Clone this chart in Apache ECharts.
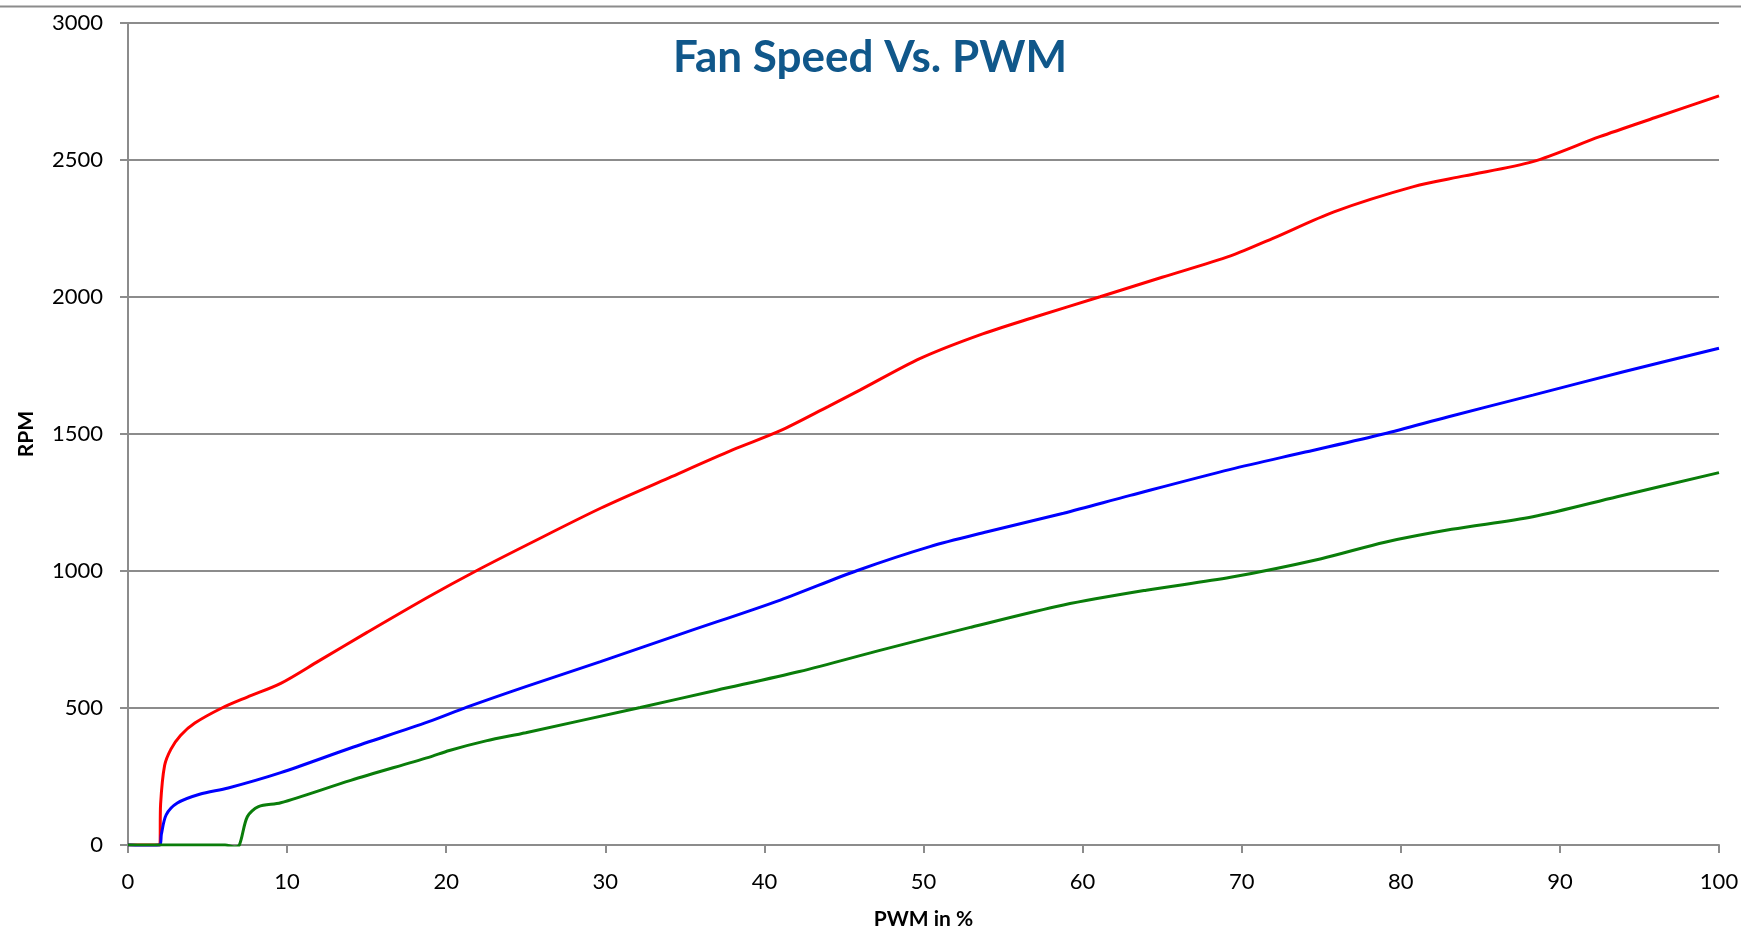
<!DOCTYPE html>
<html>
<head>
<meta charset="utf-8">
<script src="https://cdn.jsdelivr.net/npm/echarts@6/dist/echarts.min.js"></script>
<style>
html,body{margin:0;padding:0;background:#fff;}
#chart{width:1741px;height:932px;}
</style>
</head>
<body>
<div id="chart"></div>
<script>
// PWM (%) positions and RPM values
var redX = [0,1,2,2.05,2.3,2.7,3.3,4.2,5.9,7.5,9.6,12,15,18.9,21.9,25,29.7,34,38,41,44,46,49.8,53.5,57,61.1,65,69.3,72,75.8,80.8,84,88.3,92.5,96,100];
var redY = [0,0,0,150,290,350,400,445,500,540,590,672,775,906,1001,1093,1229,1340,1442,1512,1600,1660,1776,1861,1927,2001,2072,2150,2215,2311,2403,2442,2494,2585,2655,2734];

var blueX = [0,1,2,2.1,2.4,3.1,4.5,6.3,9.6,14,18.9,21.3,25,29.7,35,41,45.8,50.4,54,58.8,63,69.3,74,78.9,83,88.3,94,100];
var blueY = [0,-3,0,40,110,153,185,208,264,354,450,503,578,669,775,894,1001,1089,1143,1211,1276,1371,1434,1500,1563,1642,1727,1813];

var greenX = [0,2,4,6.1,6.7,7.0,7.5,8.2,9.6,14,18.9,20.2,22.5,25,32.2,37,42.2,47.5,53,58.8,64,69.3,75,79,83.2,88.3,93.6,100];
var greenY = [0,0,0,0,-7,0,103,140,154,236,320,345,380,410,502,565,633,714,795,876,930,977,1045,1105,1152,1198,1271,1359];

var xTicks = [0,10,20,30,40,50,60,70,80,90,100];
var yTicks = [0,500,1000,1500,2000,2500,3000];

function pairs(xs, ys){ return xs.map(function(x,i){ return [x, ys[i]]; }); }

var FONT = 'Lato, "Open Sans", sans-serif';
var chart = echarts.init(document.getElementById('chart'), null, {renderer:'canvas'});
chart.setOption({
  backgroundColor: '#ffffff',
  animation: false,
  title: {
    text: 'Fan Speed Vs. PWM',
    left: 668, top: 31,
    textStyle: {fontFamily: FONT, fontSize: 44, fontWeight: 'bold', color: '#10578A'}
  },
  graphic: [{
    type: 'line', shape: {x1: 0, y1: 6.5, x2: 1741, y2: 6.5},
    style: {stroke: '#8c8c8c', lineWidth: 2}
  }],
  grid: {left: 128, right: 22, top: 23, bottom: 87, containLabel: false, outerBoundsMode: 'none'},
  xAxis: {
    type: 'value', min: xTicks[0], max: xTicks[xTicks.length-1], interval: 10,
    name: 'PWM in %', nameLocation: 'middle', nameGap: 64,
    nameTextStyle: {fontFamily: FONT, fontSize: 21, fontWeight: 'bold', color: '#000'},
    axisLine: {show: true, lineStyle: {color: '#8c8c8c', width: 2}},
    axisTick: {show: true, length: 8, lineStyle: {color: '#8c8c8c', width: 2}},
    axisLabel: {fontFamily: FONT, fontSize: 22, color: '#000', margin: 26,
      formatter: function(v){ return String(v); }},
    splitLine: {show: false}
  },
  yAxis: {
    type: 'value', min: yTicks[0], max: yTicks[yTicks.length-1], interval: 500,
    name: 'RPM', nameLocation: 'middle', nameGap: 91, nameRotate: 90,
    nameTextStyle: {fontFamily: FONT, fontSize: 21, fontWeight: 'bold', color: '#000'},
    axisLine: {show: true, lineStyle: {color: '#8c8c8c', width: 2}},
    axisTick: {show: true, length: 8, lineStyle: {color: '#8c8c8c', width: 2}},
    axisLabel: {fontFamily: FONT, fontSize: 22, color: '#000', margin: 25,
      formatter: function(v){ return String(v); }},
    splitLine: {show: true, lineStyle: {color: '#8c8c8c', width: 2}}
  },
  series: [
    {name: 'Red', type: 'line', data: pairs(redX, redY), showSymbol: false, smooth: 0.3,
     lineStyle: {color: '#ff0000', width: 3}, itemStyle: {color: '#ff0000'}},
    {name: 'Blue', type: 'line', data: pairs(blueX, blueY), showSymbol: false, smooth: 0.3,
     lineStyle: {color: '#0000ff', width: 3}, itemStyle: {color: '#0000ff'}},
    {name: 'Green', type: 'line', data: pairs(greenX, greenY), showSymbol: false, smooth: 0.3,
     lineStyle: {color: '#0a7d0a', width: 3}, itemStyle: {color: '#0a7d0a'}}
  ]
});
</script>
</body>
</html>
